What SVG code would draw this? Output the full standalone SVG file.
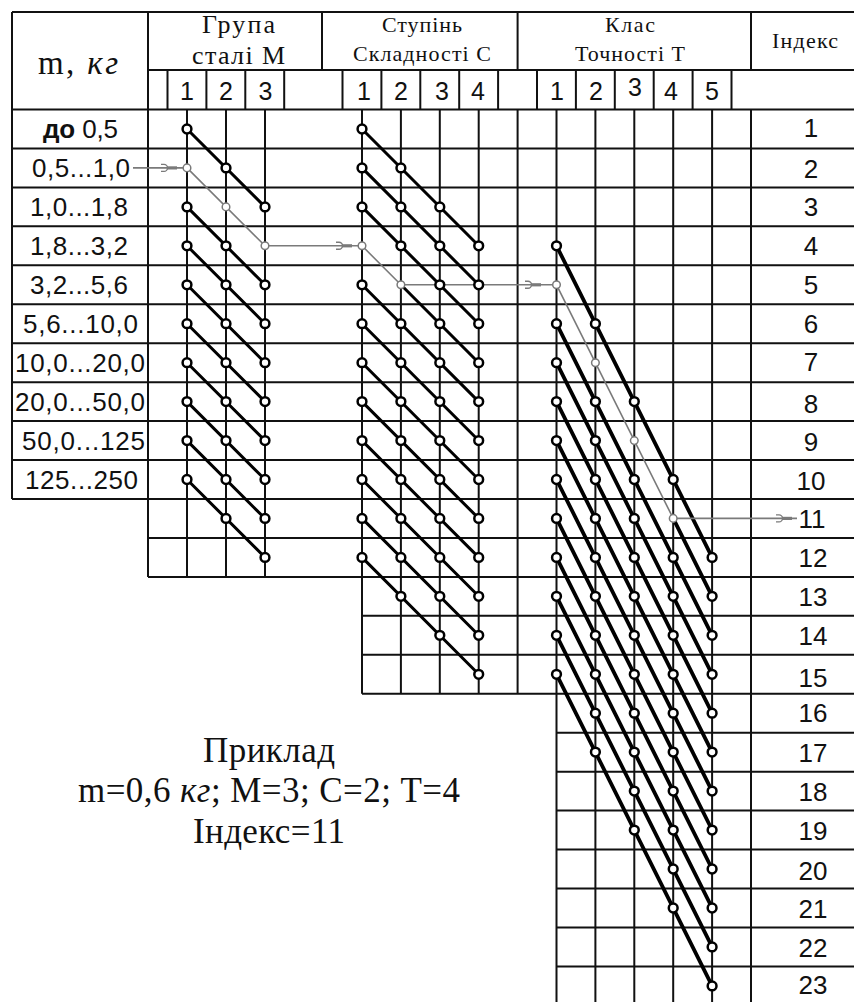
<svg xmlns="http://www.w3.org/2000/svg" width="854" height="1002" viewBox="0 0 854 1002">
<style>
.grid{fill:none;stroke:#111;stroke-width:2}
.ch{fill:none;stroke:#000;stroke-width:3;stroke-linecap:round}
.cht{fill:none;stroke:#000;stroke-width:3.8;stroke-linecap:round}
.gp{fill:none;stroke:#7a7a7a;stroke-width:1.6}
.serif{font-family:"Liberation Serif","Times New Roman",serif;fill:#111;text-anchor:middle}
.sans{font-family:"Liberation Sans",Arial,sans-serif;fill:#111;text-anchor:middle}
.lab{font-size:26px}
.sub{font-size:25px}
.idx{font-size:26px}
.h1{font-size:26px}
.h2{font-size:22px}
.ex{font-size:35px}
</style>
<defs>
<circle id="b" r="4.4" fill="#fff" stroke="#000" stroke-width="2.5"/>
<circle id="g" r="3.8" fill="#fff" stroke="#7a7a7a" stroke-width="1.5"/>
<g id="ah" fill="none" stroke="#7a7a7a"><path d="M-16,-3.5H-13A3.5,3.5 0 0 1 -13,3.5H-16" stroke-width="1.4"/><path d="M-10,0H0" stroke-width="3.2"/></g>
</defs>
<rect width="854" height="1002" fill="#fff"/>
<g id="table-grid" class="grid">
<path d="M12,12H854M148,70H854M12,109.5H854M12,148.45H854M12,187.4H854M12,226.35H854M12,265.3H854M12,304.25H854M12,343.2H854M12,382.15H854M12,421.1H854M12,460.05H854M12,499H854M148,537.95H854M148,576.9H854M362,615.85H854M362,654.8H854M362,693.75H854M556.5,732.7H854M556.5,771.65H854M556.5,810.6H854M556.5,849.55H854M556.5,888.5H854M556.5,927.45H854M556.5,966.4H854"/>
<path d="M12,12V499M148,12V576.9M322,12V70M517.6,12V70M751,12V70M751,109.5V1002"/>
<path d="M167.5,70V109.5M206.4,70V109.5M245.3,70V109.5M284.2,70V109.5M342.5,70V109.5M381.4,70V109.5M420.3,70V109.5M459.2,70V109.5M498.1,70V109.5M537,70V109.5M575.9,70V109.5M614.8,70V109.5M653.7,70V109.5M692.6,70V109.5M731.5,70V109.5"/>
<path d="M187,109.5V576.9M226,109.5V576.9M265,109.5V576.9"/>
<path d="M362,109.5V693.75M400.9,109.5V693.75M439.8,109.5V693.75M478.7,109.5V693.75M517.6,109.5V693.75"/>
<path d="M556.5,109.5V1002M595.4,109.5V1002M634.3,109.5V1002M673.2,109.5V1002M712.1,109.5V1002"/>
</g>
<g id="headers">
<text class="serif" x="78" y="74" font-size="33" textLength="80">m, <tspan font-style="italic">кг</tspan></text>
<text class="serif h1" x="238.5" y="33" textLength="73">Група</text>
<text class="serif h1" x="238.5" y="64" textLength="93">сталі М</text>
<text class="serif h2" x="422" y="32" textLength="80">Ступінь</text>
<text class="serif h2" x="422" y="61" textLength="138">Складності С</text>
<text class="serif h2" x="630" y="32" textLength="50">Клас</text>
<text class="serif h2" x="630" y="61" textLength="110">Точності Т</text>
<text class="serif h2" x="805" y="48" textLength="66">Індекс</text>
</g>
<g id="subheader" class="sans sub">
<text x="187" y="100">1</text><text x="226" y="100">2</text><text x="265.5" y="100">3</text>
<text x="364" y="100">1</text><text x="401" y="100">2</text><text x="442" y="100">3</text><text x="478" y="100">4</text>
<text x="557" y="100">1</text><text x="596" y="100">2</text><text x="635" y="96">3</text><text x="671" y="100">4</text><text x="712" y="100">5</text>
</g>
<g id="mass-labels" class="sans lab">
<text x="80.5" y="138" textLength="75"><tspan font-weight="bold">до</tspan> 0,5</text>
<text x="81" y="177" textLength="98">0,5...1,0</text>
<text x="79" y="216" textLength="98">1,0...1,8</text>
<text x="79" y="255" textLength="98">1,8...3,2</text>
<text x="79" y="294" textLength="98">3,2...5,6</text>
<text x="80.5" y="333" textLength="115">5,6...10,0</text>
<text x="80" y="372" textLength="130">10,0...20,0</text>
<text x="80" y="411" textLength="130">20,0...50,0</text>
<text x="83.5" y="450" textLength="123">50,0...125</text>
<text x="81.5" y="489" textLength="113">125...250</text>
</g>
<g id="index-labels" class="sans idx">
<text x="811" y="137">1</text><text x="811" y="178">2</text><text x="811" y="216">3</text><text x="811" y="255">4</text><text x="811" y="294">5</text><text x="811" y="333">6</text><text x="811" y="371">7</text><text x="811" y="413">8</text><text x="811" y="451">9</text><text x="811" y="490">10</text><text x="812" y="528">11</text><text x="813" y="567">12</text><text x="813" y="606">13</text><text x="813" y="645">14</text><text x="813" y="687">15</text><text x="813" y="722">16</text><text x="813" y="762">17</text><text x="813" y="801">18</text><text x="813" y="840">19</text><text x="813" y="880">20</text><text x="813" y="918">21</text><text x="813" y="957">22</text><text x="813" y="994">23</text>
</g>
<g id="connectors">
<path id="chains-M" class="ch" d="M187,129l78,77.9M187,206.9l78,77.9M187,245.8l78,77.9M187,284.8l78,77.9M187,323.7l78,77.9M187,362.7l78,77.9M187,401.6l78,77.9M187,440.6l78,77.9M187,479.5l78,77.9"/>
<path id="chains-C" class="ch" d="M362,129l116.7,116.8M362,167.9l116.7,116.8M362,206.9l116.7,116.8M400.9,284.8l77.8,77.9M362,284.8l116.7,116.8M362,323.7l116.7,116.8M362,362.7l116.7,116.8M362,401.6l116.7,116.8M362,440.6l116.7,116.8M362,479.5l116.7,116.8M362,518.4l116.7,116.8M362,557.4l116.7,116.8"/>
<path id="chains-T" class="cht" d="M556.5,245.8l155.6,311.6M673.2,518.4l38.9,77.9M556.5,323.7l155.6,311.6M556.5,362.7l155.6,311.6M556.5,401.6l155.6,311.6M556.5,440.6l155.6,311.6M556.5,479.5l155.6,311.6M556.5,518.4l155.6,311.6M556.5,557.4l155.6,311.6M556.5,596.3l155.6,311.6M556.5,635.3l155.6,311.6M556.5,674.3l155.6,311.6"/>
<path id="example-path" class="gp" d="M133,167.9H187L265,245.8H362L400.9,284.8H556.5L673.2,518.4H797"/>
<use href="#ah" x="177" y="167.9"/>
<use href="#ah" x="352" y="245.8"/>
<use href="#ah" x="541" y="284.8"/>
<use href="#ah" x="792" y="518.4"/>
</g>
<g id="nodes-M">
<g transform="translate(187 0)"><use href="#b" y="129"/><use href="#b" y="206.9"/><use href="#b" y="245.8"/><use href="#b" y="284.8"/><use href="#b" y="323.7"/><use href="#b" y="362.7"/><use href="#b" y="401.6"/><use href="#b" y="440.6"/><use href="#b" y="479.5"/></g>
<g transform="translate(226 0)"><use href="#b" y="167.9"/><use href="#b" y="245.8"/><use href="#b" y="284.8"/><use href="#b" y="323.7"/><use href="#b" y="362.7"/><use href="#b" y="401.6"/><use href="#b" y="440.6"/><use href="#b" y="479.5"/><use href="#b" y="518.4"/></g>
<g transform="translate(265 0)"><use href="#b" y="206.9"/><use href="#b" y="284.8"/><use href="#b" y="323.7"/><use href="#b" y="362.7"/><use href="#b" y="401.6"/><use href="#b" y="440.6"/><use href="#b" y="479.5"/><use href="#b" y="518.4"/><use href="#b" y="557.4"/></g>
</g>
<g id="nodes-C">
<g transform="translate(362 0)"><use href="#b" y="129"/><use href="#b" y="167.9"/><use href="#b" y="206.9"/><use href="#b" y="284.8"/><use href="#b" y="323.7"/><use href="#b" y="362.7"/><use href="#b" y="401.6"/><use href="#b" y="440.6"/><use href="#b" y="479.5"/><use href="#b" y="518.4"/><use href="#b" y="557.4"/></g>
<g transform="translate(400.9 0)"><use href="#b" y="167.9"/><use href="#b" y="206.9"/><use href="#b" y="245.8"/><use href="#b" y="323.7"/><use href="#b" y="362.7"/><use href="#b" y="401.6"/><use href="#b" y="440.6"/><use href="#b" y="479.5"/><use href="#b" y="518.4"/><use href="#b" y="557.4"/><use href="#b" y="596.3"/></g>
<g transform="translate(439.8 0)"><use href="#b" y="206.9"/><use href="#b" y="245.8"/><use href="#b" y="284.8"/><use href="#b" y="323.7"/><use href="#b" y="362.7"/><use href="#b" y="401.6"/><use href="#b" y="440.6"/><use href="#b" y="479.5"/><use href="#b" y="518.4"/><use href="#b" y="557.4"/><use href="#b" y="596.3"/><use href="#b" y="635.3"/></g>
<g transform="translate(478.7 0)"><use href="#b" y="245.8"/><use href="#b" y="284.8"/><use href="#b" y="323.7"/><use href="#b" y="362.7"/><use href="#b" y="401.6"/><use href="#b" y="440.6"/><use href="#b" y="479.5"/><use href="#b" y="518.4"/><use href="#b" y="557.4"/><use href="#b" y="596.3"/><use href="#b" y="635.3"/><use href="#b" y="674.3"/></g>
</g>
<g id="nodes-T">
<g transform="translate(556.5 0)"><use href="#b" y="245.8"/><use href="#b" y="323.7"/><use href="#b" y="362.7"/><use href="#b" y="401.6"/><use href="#b" y="440.6"/><use href="#b" y="479.5"/><use href="#b" y="518.4"/><use href="#b" y="557.4"/><use href="#b" y="596.3"/><use href="#b" y="635.3"/><use href="#b" y="674.3"/></g>
<g transform="translate(595.4 0)"><use href="#b" y="323.7"/><use href="#b" y="401.6"/><use href="#b" y="440.6"/><use href="#b" y="479.5"/><use href="#b" y="518.4"/><use href="#b" y="557.4"/><use href="#b" y="596.3"/><use href="#b" y="635.3"/><use href="#b" y="674.3"/><use href="#b" y="713.2"/><use href="#b" y="752.1"/></g>
<g transform="translate(634.3 0)"><use href="#b" y="401.6"/><use href="#b" y="479.5"/><use href="#b" y="518.4"/><use href="#b" y="557.4"/><use href="#b" y="596.3"/><use href="#b" y="635.3"/><use href="#b" y="674.3"/><use href="#b" y="713.2"/><use href="#b" y="752.1"/><use href="#b" y="791.1"/><use href="#b" y="830.1"/></g>
<g transform="translate(673.2 0)"><use href="#b" y="479.5"/><use href="#b" y="557.4"/><use href="#b" y="596.3"/><use href="#b" y="635.3"/><use href="#b" y="674.3"/><use href="#b" y="713.2"/><use href="#b" y="752.1"/><use href="#b" y="791.1"/><use href="#b" y="830.1"/><use href="#b" y="869"/><use href="#b" y="908"/></g>
<g transform="translate(712.1 0)"><use href="#b" y="557.4"/><use href="#b" y="596.3"/><use href="#b" y="635.3"/><use href="#b" y="674.3"/><use href="#b" y="713.2"/><use href="#b" y="752.1"/><use href="#b" y="791.1"/><use href="#b" y="830.1"/><use href="#b" y="869"/><use href="#b" y="908"/><use href="#b" y="946.9"/><use href="#b" y="985.9"/></g>
</g>
<g id="nodes-example">
<use href="#g" x="187" y="167.9"/><use href="#g" x="226" y="206.9"/><use href="#g" x="265" y="245.8"/><use href="#g" x="362" y="245.8"/><use href="#g" x="400.9" y="284.8"/><use href="#g" x="556.5" y="284.8"/><use href="#g" x="595.4" y="362.7"/><use href="#g" x="634.3" y="440.6"/><use href="#g" x="673.2" y="518.4"/>
</g>
<g id="example-text" class="serif ex">
<text x="269" y="762" textLength="132">Приклад</text>
<text x="269" y="802" textLength="382">m=0,6 <tspan font-style="italic">кг</tspan>; М=3; С=2; Т=4</text>
<text x="269" y="843" textLength="152">Індекс=11</text>
</g>
</svg>
